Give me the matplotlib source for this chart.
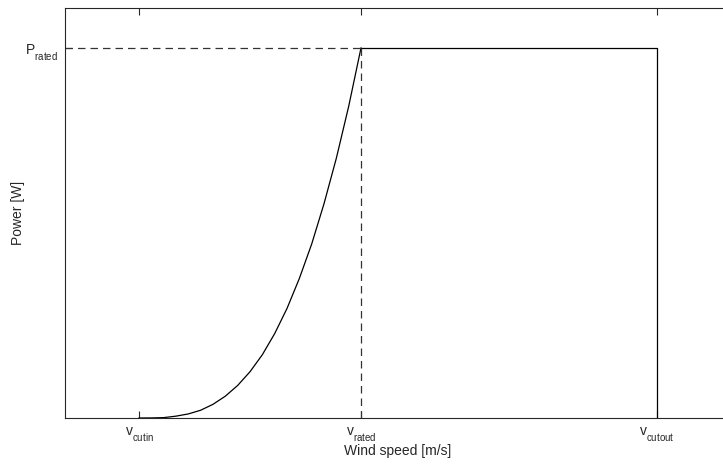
import matplotlib
matplotlib.use("Agg")
import matplotlib.pyplot as plt
from matplotlib import _mathtext

plt.rcParams['font.family'] = ['Liberation Sans', 'DejaVu Sans']
plt.rcParams['mathtext.fontset'] = 'custom'
plt.rcParams['mathtext.rm'] = 'Liberation Sans'
plt.rcParams['mathtext.it'] = 'Liberation Sans'

# MATLAB-like deeper subscripts
_mathtext.FontConstantsBase.subdrop = 0.75
_mathtext.FontConstantsBase.sub1 = 0.75

# characteristic wind speeds and rated power
v_cutin = 3
v_rated = 12
v_cutout = 24
p_rated = 1.0

# power curve (between cut-in and rated speed)
wind = [3, 3.5, 4, 4.5, 5, 5.5, 6, 6.5, 7, 7.5, 8, 8.5, 9, 9.5, 10,
        10.5, 11, 11.5, 12]
power = [0.0, 0.0002, 0.001, 0.005, 0.011, 0.021, 0.037, 0.059, 0.088,
         0.125, 0.171, 0.228, 0.296, 0.377, 0.470, 0.579, 0.702, 0.842, 1.0]

xticks = [v_cutin, v_rated, v_cutout]
xlabels = [r'$\mathrm{v}_{\mathrm{cutin}}$', r'$\mathrm{v}_{\mathrm{rated}}$',
           r'$\mathrm{v}_{\mathrm{cutout}}$']
ylabels = [r'$\mathrm{P}_{\mathrm{rated}}$']

fig = plt.figure(figsize=(7.23, 4.66), dpi=100)
ax = fig.add_axes([65 / 723, 48 / 466, 666 / 723, 410 / 466])

ax.plot(wind, power, color='black', lw=0.9)
ax.plot([v_rated, v_cutout, v_cutout], [p_rated, p_rated, 0], color='black', lw=0.9)
ax.plot([0, v_rated], [p_rated, p_rated], '--', color='#333333', lw=0.9, dashes=(6, 4))
ax.plot([v_rated, v_rated], [0, p_rated], '--', color='#333333', lw=0.9, dashes=(6, 4))

ax.set_xlim(0, 27)
ax.set_ylim(0, 1.108)
ax.set_xticks(xticks)
ax.set_xticklabels(xlabels, fontsize=10)
ax.set_yticks([p_rated])
ax.set_yticklabels(ylabels, fontsize=10)
ax.tick_params(direction='in', top=True, right=True, length=5, width=0.8,
               colors='#262626', pad=5)
for s in ax.spines.values():
    s.set_color('#262626')
    s.set_linewidth(0.8)

ax.set_xlabel('Wind speed [m/s]', fontsize=10, color='#262626', labelpad=1)
ax.set_ylabel('Power [W]', fontsize=10, color='#262626', labelpad=0)

fig.savefig('out.png', dpi=100)
